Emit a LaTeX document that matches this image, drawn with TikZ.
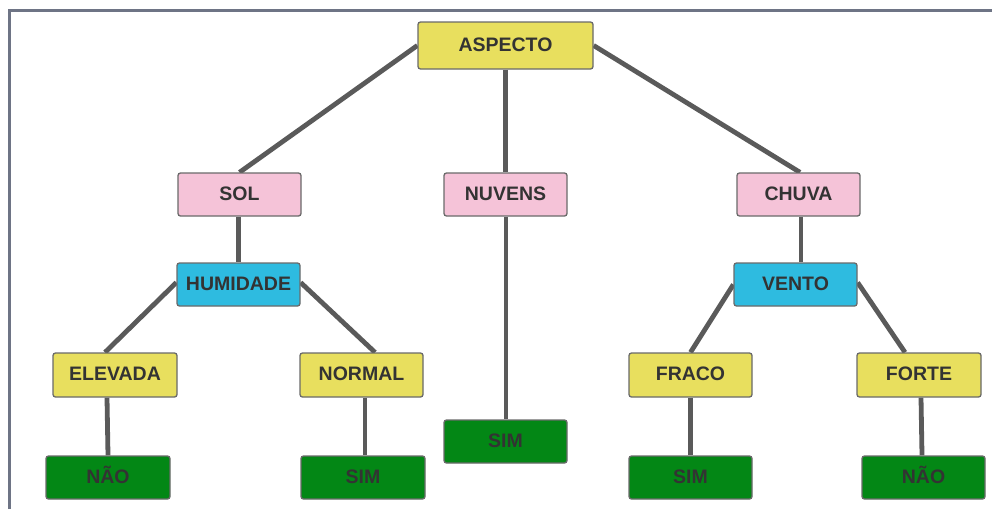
\documentclass[tikz,border=0pt]{standalone}
\usepackage{fontspec}
\setmainfont{Liberation Sans}
\usetikzlibrary{backgrounds}
\definecolor{cyel}{HTML}{E8DF5E}
\definecolor{cpink}{HTML}{F5C3D8}
\definecolor{cblue}{HTML}{2EBBE0}
\definecolor{cgreen}{HTML}{038715}
\definecolor{ctext}{HTML}{333333}
\definecolor{cedge}{HTML}{5A5A5A}
\definecolor{cborder}{HTML}{6A6A6A}
\definecolor{cframe}{HTML}{6E7485}
\tikzset{
  box/.style={draw=cborder, line width=1.3pt, rounded corners=2.5pt, minimum width=123pt, minimum height=43pt, inner sep=0pt, text height=13pt, text depth=2pt, font=\fontsize{19.5pt}{22pt}\selectfont\bfseries, text=ctext},
  yel/.style={box, fill=cyel},
  pink/.style={box, fill=cpink},
  blue/.style={box, fill=cblue},
  grn/.style={box, fill=cgreen},
  edge/.style={draw=cedge, line width=4.8pt}
}
\begin{document}
\begin{tikzpicture}[x=1pt,y=-1pt]
\useasboundingbox (0,0) rectangle (992,509);
\node[yel, minimum width=175pt, minimum height=47pt] (aspecto) at (505.5,45.5) {ASPECTO};
\node[pink] (sol) at (239.5,194.5) {SOL};
\node[pink] (nuvens) at (505.5,194.5) {NUVENS};
\node[pink] (chuva) at (798.5,194.5) {CHUVA};
\node[blue] (humidade) at (238.5,284.5) {HUMIDADE};
\node[blue] (vento) at (795.5,284.5) {VENTO};
\node[yel, minimum width=124pt, minimum height=44pt] (elevada) at (115,375) {ELEVADA};
\node[yel, minimum height=44pt] (normal) at (361.5,375) {NORMAL};
\node[yel, minimum height=44pt] (fraco) at (690.5,375) {FRACO};
\node[yel, minimum width=124pt, minimum height=44pt] (forte) at (919,375) {FORTE};
\node[grn, minimum width=124pt] (nao1) at (108,477.5) {NÃO};
\node[grn, minimum width=124pt] (sim1) at (363,477.5) {SIM};
\node[grn] (sim2) at (505.5,441.5) {SIM};
\node[grn] (sim3) at (690.5,477.5) {SIM};
\node[grn] (nao2) at (923.5,477.5) {NÃO};
\begin{scope}[on background layer]
\fill[white] (0,0) rectangle (992,509);
\draw[cframe, line width=3pt] (9.5,509) -- (9.5,10) -- (992,10);
\draw[edge] (aspecto.west) -- (sol.north);
\draw[edge] (aspecto.south) -- (nuvens.north);
\draw[edge] (aspecto.east) -- ([xshift=1.5pt]chuva.north);
\draw[edge] ([xshift=-1pt]sol.south) -- (humidade.north);
\draw[edge] ([xshift=2.5pt]chuva.south) -- ([xshift=5.5pt]vento.north);
\draw[edge] ([yshift=2pt]humidade.west) -- ([xshift=-10pt]elevada.north);
\draw[edge] ([yshift=2pt]humidade.east) -- ([xshift=13.5pt]normal.north);
\draw[edge] (vento.west) -- (fraco.north);
\draw[edge] ([yshift=2pt]vento.east) -- ([xshift=-14pt]forte.north);
\draw[edge] ([xshift=0.5pt]nuvens.south) -- ([xshift=0.5pt]sim2.north);
\draw[edge] ([xshift=-8pt]elevada.south) -- (nao1.north);
\draw[edge] ([xshift=3.5pt]normal.south) -- ([xshift=2pt]sim1.north);
\draw[edge] (fraco.south) -- (sim3.north);
\draw[edge] ([xshift=2pt]forte.south) -- ([xshift=-1.5pt]nao2.north);
\end{scope}
\end{tikzpicture}
\end{document}
